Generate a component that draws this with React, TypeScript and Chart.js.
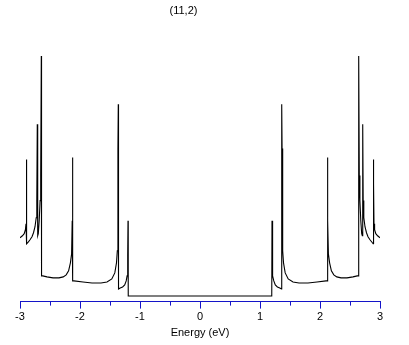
import React, { useEffect, useRef } from "react";
import { Chart, registerables } from "chart.js";

Chart.register(...registerables);

const chartTitle = "(11,2)";
const axisTitle = "Energy (eV)";
const xMin = -3;
const xMax = 3;
const majorStep = 1;
const minorTicks = [-2.5, -1.5, -0.5, 0.5, 1.5, 2.5];

// Energy (eV)
const energy = [
  -3.0, -2.96, -2.93, -2.91, -2.9, -2.895, -2.89, -2.886,
  -2.86, -2.833, -2.8, -2.775, -2.75, -2.73, -2.72, -2.712,
  -2.705, -2.695, -2.68, -2.665, -2.655, -2.645, -2.641,
  -2.62, -2.55, -2.45, -2.35, -2.28, -2.23, -2.19, -2.16, -2.14, -2.13, -2.125, -2.12,
  -2.1, -1.95, -1.8, -1.65, -1.55, -1.47, -1.42, -1.392, -1.378, -1.368, -1.362, -1.358,
  -1.33, -1.29, -1.255, -1.23, -1.215, -1.205, -1.2, -1.196,
  0.0,
  1.196, 1.2, 1.205, 1.215, 1.23, 1.255, 1.29, 1.33,
  1.358, 1.362, 1.368, 1.378, 1.392, 1.42, 1.47, 1.55, 1.65, 1.8, 1.95, 2.1,
  2.12, 2.125, 2.13, 2.14, 2.16, 2.19, 2.23, 2.28, 2.35, 2.45, 2.55, 2.62,
  2.641, 2.645, 2.655, 2.665, 2.68, 2.695, 2.705,
  2.712, 2.72, 2.73, 2.75, 2.775, 2.8, 2.833, 2.86,
  2.886, 2.89, 2.895, 2.9, 2.91, 2.93, 2.96, 3.0,
];

// Density of states (arb. units)
const dos = [
  0.58, 0.6, 0.62, 0.66, 0.72, 1.12, 1.36, 0.52,
  0.54, 0.56, 0.59, 0.63, 0.69, 0.78, 0.95, 1.71,
  0.6, 0.62, 0.75, 0.95, 1.2, 2.39, 0.2,
  0.2, 0.19, 0.18, 0.18, 0.19, 0.21, 0.25, 0.33, 0.42, 0.75, 1.38, 0.15,
  0.15, 0.14, 0.13, 0.13, 0.14, 0.17, 0.23, 0.33, 0.45, 1.47, 1.91, 0.07,
  0.08, 0.09, 0.11, 0.15, 0.2, 0.4, 0.75, 0.0,
  0.0,
  0.0, 0.75, 0.4, 0.2, 0.15, 0.11, 0.09, 0.08,
  0.07, 1.91, 1.47, 0.45, 0.33, 0.23, 0.17, 0.14, 0.13, 0.13, 0.14, 0.15,
  0.15, 1.38, 0.75, 0.42, 0.33, 0.25, 0.21, 0.19, 0.18, 0.18, 0.19, 0.2,
  0.2, 2.39, 1.2, 0.95, 0.75, 0.62, 0.6,
  1.71, 0.95, 0.78, 0.69, 0.63, 0.59, 0.56, 0.54,
  0.52, 1.36, 1.12, 0.72, 0.66, 0.62, 0.6, 0.58,
];

const FONT = "'Liberation Sans', Arial, sans-serif";
const AXIS_BLUE = "#1414c8";

export default function App() {
  const canvasRef = useRef<HTMLCanvasElement | null>(null);

  useEffect(() => {
    const canvas = canvasRef.current;
    if (!canvas) return;

    const minorTickPlugin = {
      id: "minorTicks",
      afterDraw(chart: any) {
        const scale = chart.scales.x;
        const ctx = chart.ctx;
        const bottom = chart.chartArea.bottom;
        ctx.save();
        ctx.strokeStyle = AXIS_BLUE;
        ctx.lineWidth = 1;
        minorTicks.forEach((v) => {
          const px = Math.round(scale.getPixelForValue(v)) + 0.5;
          ctx.beginPath();
          ctx.moveTo(px, bottom);
          ctx.lineTo(px, bottom + 4);
          ctx.stroke();
        });
        ctx.restore();
      },
    };

    const titlePlugin = {
      id: "topTitle",
      afterDraw(chart: any) {
        const ctx = chart.ctx;
        ctx.save();
        ctx.fillStyle = "#000";
        ctx.font = `11px ${FONT}`;
        ctx.textAlign = "center";
        ctx.textBaseline = "middle";
        ctx.fillText(chartTitle, 183.5, 11);
        ctx.restore();
      },
    };

    const chart = new Chart(canvas, {
      type: "line",
      data: {
        datasets: [
          {
            data: energy.map((e, i) => ({ x: e, y: dos[i] })),
            borderColor: "#000",
            borderWidth: 1.1,
            pointRadius: 0,
            tension: 0,
            fill: false,
          },
        ],
      },
      options: {
        animation: false,
        responsive: false,
        devicePixelRatio: 1,
        layout: { padding: { left: 20, right: 29, top: 40, bottom: 0 } },
        plugins: {
          legend: { display: false },
          tooltip: { enabled: false },
          title: { display: false },
        },
        scales: {
          x: {
            type: "linear",
            min: xMin,
            max: xMax,
            position: "bottom",
            border: { display: true, color: AXIS_BLUE, width: 1 },
            grid: {
              display: true,
              drawOnChartArea: false,
              drawTicks: true,
              tickLength: 7,
              color: AXIS_BLUE,
            },
            ticks: {
              stepSize: majorStep,
              color: "#000",
              font: { size: 11, family: FONT },
              padding: 2,
              maxRotation: 0,
            },
            title: {
              display: true,
              text: axisTitle,
              color: "#000",
              font: { size: 11, family: FONT },
              padding: { top: 1, bottom: 5 },
            },
          },
          y: {
            display: false,
            min: -0.056,
            max: 2.55,
          },
        },
      },
      plugins: [minorTickPlugin, titlePlugin],
    });

    return () => chart.destroy();
  }, []);

  return (
    <div style={{ position: "absolute", left: 0, top: 0, width: 409, height: 345, background: "#fff" }}>
      <canvas ref={canvasRef} width={409} height={345} />
    </div>
  );
}
